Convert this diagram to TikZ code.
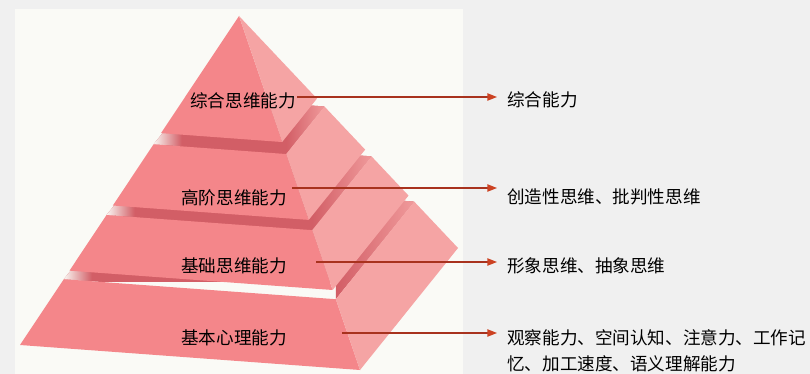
\documentclass[tikz,border=0pt]{standalone}
\usepackage{fontspec}
\setmainfont{Noto Sans CJK SC}
\usetikzlibrary{calc,arrows.meta}

\definecolor{hintergrund}{HTML}{F0F0F0}
\definecolor{flaeche}{HTML}{FAFAF6}
\definecolor{vorne}{HTML}{F4868A}
\definecolor{seite}{HTML}{F5A4A4}
\definecolor{deckel}{HTML}{D25E66}
\definecolor{linie}{HTML}{A8321E}
\definecolor{spitze}{HTML}{CC4222}

\tikzset{
    stufe/.style={font=\fontsize{12.5pt}{15pt}\selectfont, inner sep=0pt},
    ziel/.style={font=\fontsize{12.5pt}{19pt}\selectfont, inner sep=0pt, anchor=west, align=left},
    pfeil/.style={draw=linie, line width=1.4pt, -{Triangle[length=7pt, width=5pt, color=spitze]}, shorten >=7pt}
}

\begin{document}
\begin{tikzpicture}[x=0.025cm, y=-0.025cm]
        % Umgebung
            \fill[hintergrund] (0,0) rectangle (810,374);
            \fill[flaeche] (15,9) rectangle (463,374);

        % Eckpunkte der Pyramide
            \coordinate (A) at (239,16);
            \coordinate (L) at (20,345);
            \coordinate (F) at (360,370);
            \coordinate (R) at (458,248);
            \coordinate (B) at ($(L)+(R)-(F)$);

        % untere Stufen (Deckel mit Schatten, Vorderseite, rechte Seite)
            \foreach \ta/\tb in {0.800/1, 0.605/0.774, 0.390/0.576}{
                \coordinate (L1) at ($(A)!\ta!(L)$);
                \coordinate (F1) at ($(A)!\ta!(F)$);
                \coordinate (R1) at ($(A)!\ta!(R)$);
                \coordinate (B1) at ($(A)!\ta!(B)$);
                \coordinate (L2) at ($(A)!\tb!(L)$);
                \coordinate (F2) at ($(A)!\tb!(F)$);
                \coordinate (R2) at ($(A)!\tb!(R)$);
                \begin{scope}
                    \clip (L1) -- (F1) -- (R1) -- (B1) -- cycle;
                    \fill[deckel] ($(L1)+(-5,-80)$) rectangle ($(R1)+(5,80)$);
                    \shade[left color=flaeche, right color=deckel] ($(L1)+(-1,-80)$) rectangle ($(L1)+(28,80)$);
                    \shade[left color=deckel, right color=seite!85!deckel] ($(F1)+(0,-120)$) rectangle ($(R1)+(0,120)$);
                \end{scope}
                \fill[vorne] (L1) -- (F1) -- (F2) -- (L2) -- cycle;
                \fill[seite] (F1) -- (R1) -- (R2) -- (F2) -- cycle;
            }

        % Spitze
            \fill[vorne] (A) -- ($(A)!0.356!(L)$) -- ($(A)!0.356!(F)$) -- cycle;
            \fill[seite] (A) -- ($(A)!0.356!(F)$) -- ($(A)!0.356!(R)$) -- cycle;

        % Texte in der Pyramide
            \node[stufe] (l1) at (243,101) {综合思维能力};
            \node[stufe] (l2) at (234,198) {高阶思维能力};
            \node[stufe] (l3) at (234,266) {基础思维能力};
            \node[stufe] (l4) at (234,338) {基本心理能力};

        % Texte rechts
            \node[ziel] (r1) at (507,100) {综合能力};
            \node[ziel] (r2) at (507,197) {创造性思维、批判性思维};
            \node[ziel] (r3) at (507,266) {形象思维、抽象思维};
            \node[ziel, anchor=north west] (r4) at (507,329) {观察能力、空间认知、注意力、工作记\\忆、加工速度、语义理解能力};

        % Pfeile
            \coordinate (s1) at (297,97);
            \coordinate (s2) at (292,188);
            \coordinate (s3) at (316,262);
            \coordinate (s4) at (342,333);
            \draw[pfeil] (s1) -- (s1 -| r1.west);
            \draw[pfeil] (s2) -- (s2 -| r2.west);
            \draw[pfeil] (s3) -- (s3 -| r3.west);
            \draw[pfeil] (s4) -- (s4 -| r4.west);
\end{tikzpicture}
\end{document}
